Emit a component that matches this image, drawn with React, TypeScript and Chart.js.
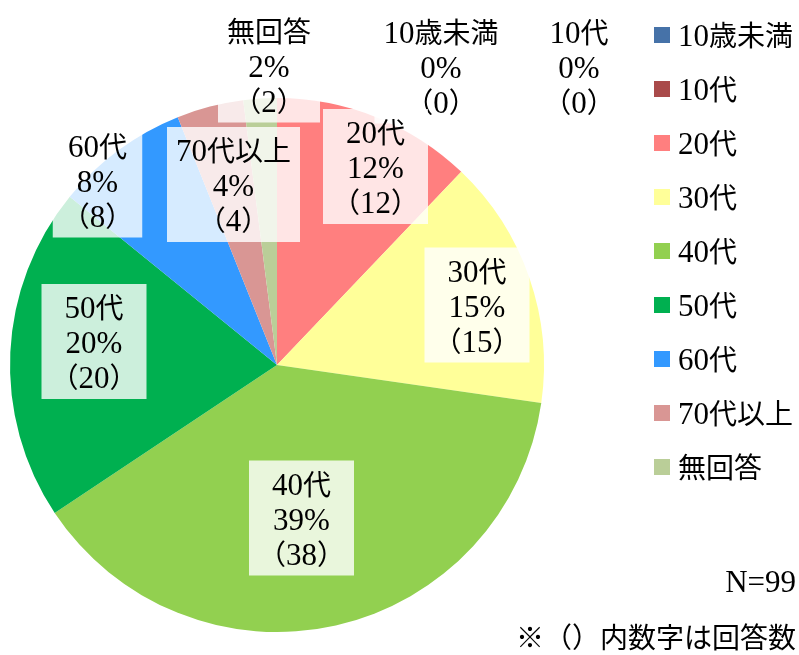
import React, { useEffect, useRef } from 'react';
import { Chart, registerables } from 'chart.js';

Chart.register(...registerables);

const categories = ['10歳未満', '10代', '20代', '30代', '40代', '50代', '60代', '70代以上', '無回答'];
const counts = [0, 0, 12, 15, 38, 20, 8, 4, 2];
const percentLabels = ['0%', '0%', '12%', '15%', '39%', '20%', '8%', '4%', '2%'];
const colors = ['#4672A8', '#A94A4A', '#FF7F7F', '#FFFF99', '#92D050', '#00B050', '#3399FF', '#D99694', '#BACE98'];
const totalLabel = 'N=99';
const noteLabel = '※（）内数字は回答数';
// label box centres, relative to the pie centre (layout only)
const labelOffsets: [number, number][] = [
  [164, -299],
  [302, -299],
  [98.5, -198.5],
  [200, -60],
  [24.5, 153],
  [-183, -23.5],
  [-179.5, -185],
  [-43.5, -180.5],
  [-8, -300],
];

const LATIN_FONT = '31px "Liberation Serif", serif';
const CJK_FONT = '28px "Noto Sans CJK JP", sans-serif';

function runs(text: string): { t: string; font: string }[] {
  const out: { t: string; font: string }[] = [];
  const re = /[\x00-\x7F]+|[^\x00-\x7F]+/g;
  let m: RegExpExecArray | null;
  while ((m = re.exec(text))) {
    const t = m[0];
    out.push({ t, font: /[\x00-\x7F]/.test(t[0]) ? LATIN_FONT : CJK_FONT });
  }
  return out;
}

function measureMixed(ctx: CanvasRenderingContext2D, text: string): number {
  let w = 0;
  for (const r of runs(text)) {
    ctx.font = r.font;
    w += ctx.measureText(r.t).width;
  }
  return w;
}

// y is the visual centre of the line
function drawMixed(ctx: CanvasRenderingContext2D, text: string, x: number, y: number, align: 'left' | 'center' | 'right') {
  const w = measureMixed(ctx, text);
  let sx = align === 'left' ? x : align === 'center' ? x - w / 2 : x - w;
  ctx.textAlign = 'left';
  ctx.textBaseline = 'alphabetic';
  const base = y + 10.5;
  for (const r of runs(text)) {
    ctx.font = r.font;
    ctx.fillText(r.t, sx, base);
    sx += ctx.measureText(r.t).width;
  }
}

const labelPlugin = {
  id: 'customLabels',
  afterDraw(chart: any) {
    const ctx = chart.ctx as CanvasRenderingContext2D;
    const meta = chart.getDatasetMeta(0);
    const arc0 = meta.data[0] as any;
    const cx = arc0.x;
    const cy = arc0.y;
    ctx.save();
    const lineH = 35;
    categories.forEach((cat, i) => {
      const lines = [cat, percentLabels[i], `（${counts[i]}）`];
      const [dx, dy] = labelOffsets[i];
      const x = cx + dx;
      const y = cy + dy;
      const w = Math.max(...lines.map((l) => measureMixed(ctx, l))) + 18;
      const h = 115;
      ctx.fillStyle = 'rgba(255,255,255,0.8)';
      ctx.fillRect(x - w / 2, y - h / 2, w, h);
      ctx.fillStyle = '#000';
      lines.forEach((l, k) => {
        drawMixed(ctx, l, x, y + (k - 1) * lineH + 1, 'center');
      });
    });

    // legend
    categories.forEach((cat, i) => {
      const top = 27 + i * 54;
      ctx.fillStyle = colors[i];
      ctx.fillRect(654, top, 16, 16);
      ctx.fillStyle = '#000';
      drawMixed(ctx, cat, 678, top + 8, 'left');
    });

    drawMixed(ctx, totalLabel, 796, 581, 'right');
    drawMixed(ctx, noteLabel, 796, 637, 'right');
    ctx.restore();
  },
};

export default function App() {
  const ref = useRef<HTMLCanvasElement>(null);
  useEffect(() => {
    if (!ref.current) return;
    const chart = new Chart(ref.current, {
      type: 'pie',
      data: {
        labels: categories,
        datasets: [
          {
            data: counts,
            backgroundColor: colors,
            borderWidth: 0,
          },
        ],
      },
      options: {
        animation: false,
        responsive: false,
        devicePixelRatio: 1,
        layout: { padding: { left: 10, top: 98, right: 255, bottom: 23 } },
        plugins: {
          legend: { display: false },
          tooltip: { enabled: false },
        },
      },
      plugins: [labelPlugin],
    });
    return () => chart.destroy();
  }, []);
  return (
    <div style={{ position: 'fixed', left: 0, top: 0, width: 799, height: 655, background: '#fff' }}>
      <canvas ref={ref} width={799} height={655} style={{ display: 'block' }} />
    </div>
  );
}
